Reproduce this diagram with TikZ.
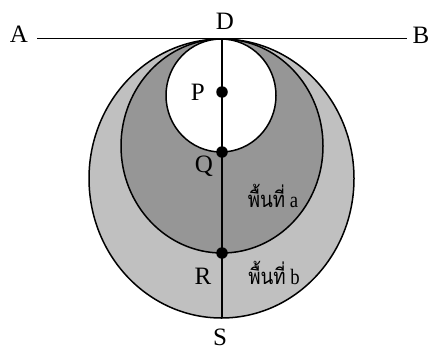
\documentclass[tikz,border=0pt]{standalone}
\usepackage{fontspec}
\setmainfont{Liberation Serif}
\newfontfamily\thaifont[Script=Thai]{Loma}
\usetikzlibrary{positioning}
\definecolor{areaA}{RGB}{150,150,150}
\definecolor{areaB}{RGB}{192,192,192}
\tikzset{
  rim/.style={draw=black, line width=1.5pt},
  ptlabel/.style={font=\fontsize{25}{25}\selectfont, inner sep=0pt},
  arealabel/.style={font=\fontsize{22}{22}\selectfont, inner sep=0pt, xscale=0.85},
  dot/.style={fill=black, circle, inner sep=0pt, minimum size=11.5pt},
}
\begin{document}
\begin{tikzpicture}[x=1pt, y=-1pt]
\useasboundingbox (0,0) rectangle (430,351);

%% Region b: large ellipse
\filldraw[rim, fill=areaB] (221.5,178.5) ellipse [x radius=132.5, y radius=139.5];
%% Region a: middle ellipse
\filldraw[rim, fill=areaA] (222,146) ellipse [x radius=101, y radius=107];
%% Small white circle
\filldraw[rim, fill=white] (221,95.5) ellipse [x radius=55, y radius=56.5];

%% Tangent line and diameter
\coordinate (lineA) at (37,38.5);
\coordinate (lineB) at (407,38.5);
\coordinate (d) at (222,38.5);
\coordinate (s) at (222,318);
\draw[line width=1.5pt] (lineA) -- (lineB);
\draw[line width=1.5pt] (d) -- (s);

%% Points on DS
\node[dot] (p) at (222,92) {};
\node[dot] (q) at (222,152) {};
\node[dot] (r) at (222,253) {};

%% Labels
\node[ptlabel] (A) at (19,34) {A};
\node[ptlabel] (B) at (421,35) {B};
\node[ptlabel] (D) at (225,21) {D};
\node[ptlabel] (S) at (220,337) {S};
\node[ptlabel, left=11pt of p] (P) {P};
\node[ptlabel] (Q) at (204,166) {Q};
\node[ptlabel] (R) at (203,276) {R};
\node[arealabel] (areaa) at (273,196) {{\thaifont พื้นที่} a};
\node[arealabel] (areab) at (274,273) {{\thaifont พื้นที่} b};

\end{tikzpicture}
\end{document}
